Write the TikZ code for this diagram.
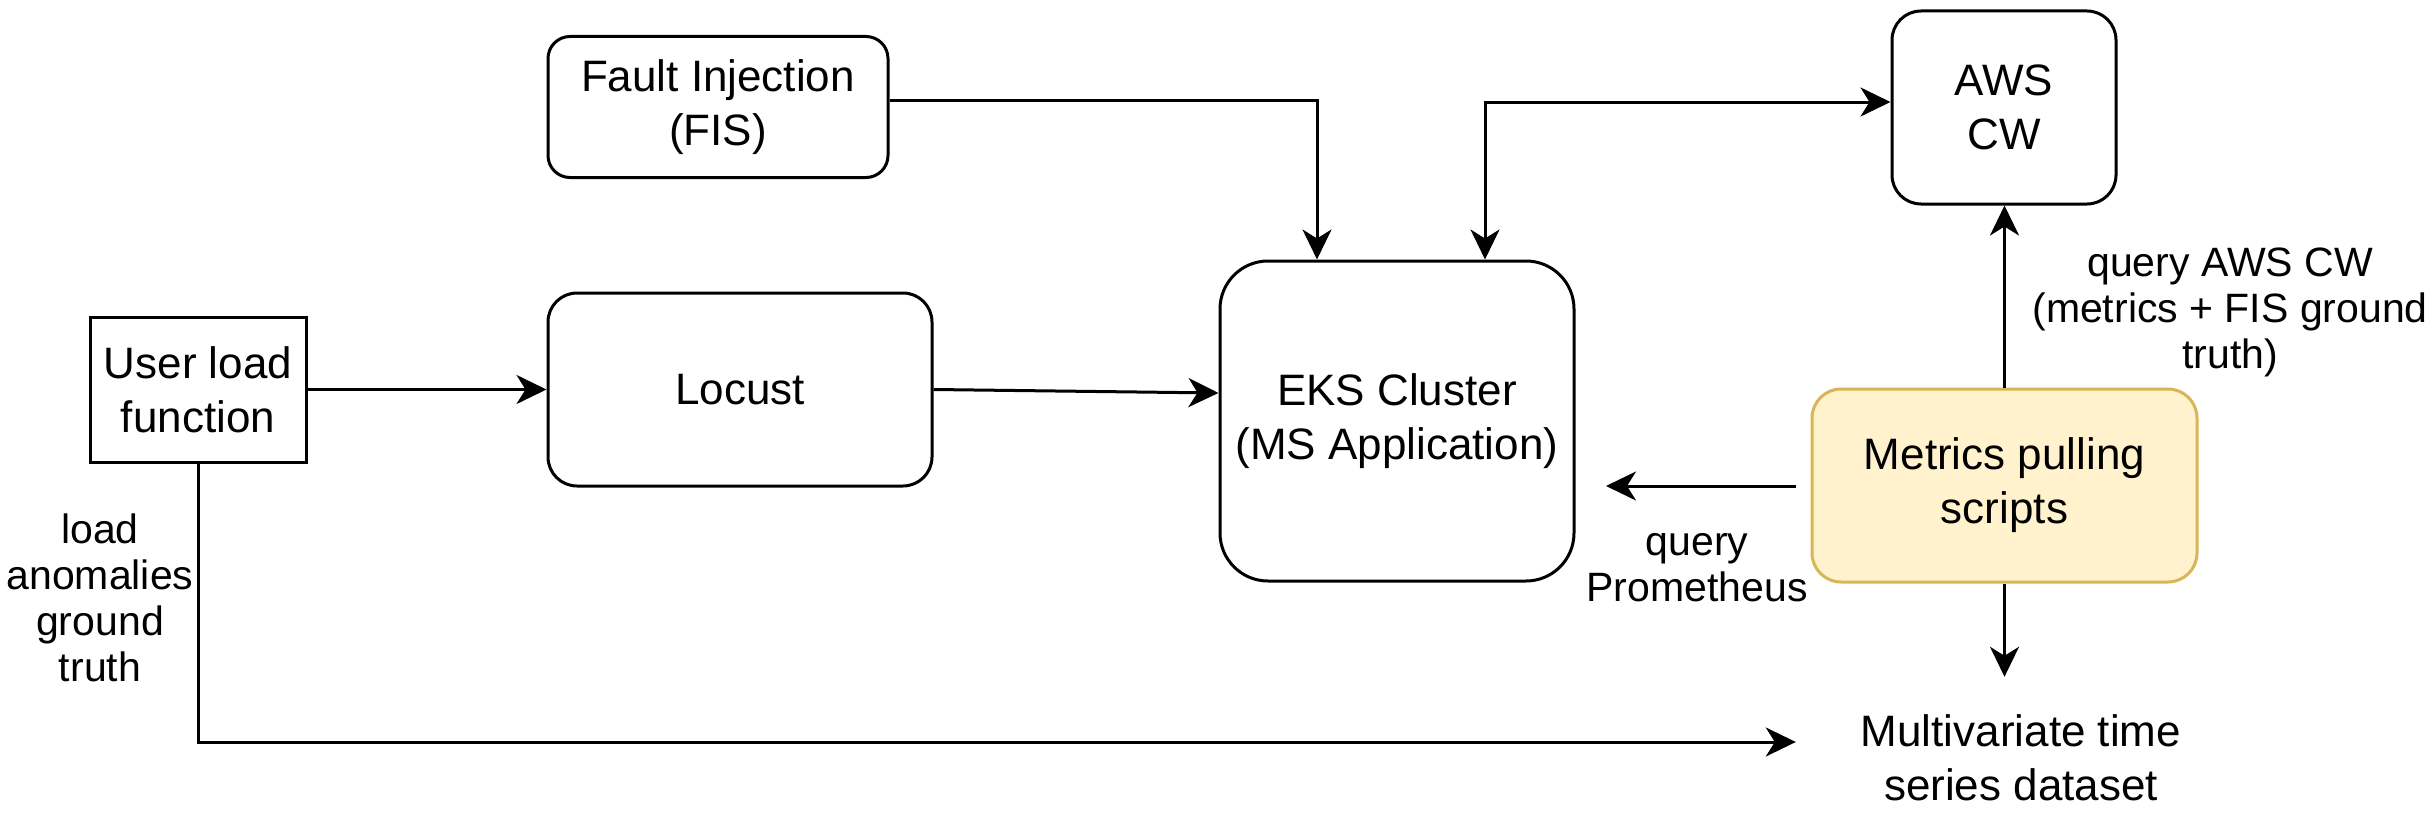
\documentclass[tikz,border=0pt]{standalone}
\usepackage{fontspec}
\setmainfont{Liberation Sans}
\usetikzlibrary{arrows.meta,calc}
\definecolor{metfill}{HTML}{FFF2CC}
\definecolor{metdraw}{HTML}{D6B656}
\begin{document}
\begin{tikzpicture}[x=1pt,y=-1pt,
  box/.style={draw, line width=3pt, align=center, inner sep=0pt,
    font=\fontsize{44}{54}\selectfont},
  rbox/.style={box, rounded corners=#1},
  lbl/.style={align=center, inner sep=0pt, font=\fontsize{41}{46}\selectfont},
  conn/.style={line width=3pt, -{Stealth[length=30pt,width=29pt,inset=9pt]}},
  conn2/.style={line width=3pt, {Stealth[length=30pt,width=29pt,inset=9pt]}-{Stealth[length=30pt,width=29pt,inset=9pt]}}]
\useasboundingbox (0,0) rectangle (2434,816);
\fill[white] (0,0) rectangle (2434,816);

\node[box, minimum width=216pt, minimum height=145pt] (user) at (198,389.5) {User load\\function};
\node[rbox=22pt, minimum width=340pt, minimum height=141pt] (fis) at (718,107) {Fault Injection\\(FIS)};
\node[rbox=29pt, minimum width=384pt, minimum height=193pt] (locust) at (740,389.5) {Locust};
\node[rbox=48pt, minimum width=354pt, minimum height=320pt] (eks) at (1397,421) {EKS Cluster\\(MS Application)};
\node[rbox=29pt, minimum width=224pt, minimum height=193pt] (aws) at (2004,107.5) {AWS\\CW};
\node[rbox=29pt, minimum width=385pt, minimum height=193pt, fill=metfill, draw=metdraw] (met) at (2004.5,485.5) {Metrics pulling\\scripts};
\node[align=center, inner sep=0pt, minimum width=450pt, minimum height=162pt,
  font=\fontsize{44}{54}\selectfont] (ds) at (2021,758) {Multivariate time\\series dataset};

\coordinate (pstart) at (1796,486);
\coordinate (pend) at (1606,486);

\draw[conn] (user.east) -- (locust.west);
\draw[conn] (locust.east) -- ($(eks.west)+(0,-28)$);
\draw[conn] ($(fis.east)+(0,-7)$) -| ($(eks.north)+(-80,0)$);
\draw[conn2] ($(eks.north)+(88,0)$) |- ($(aws.west)+(0,-5.5)$);
\draw[conn] (met.north) -- (met.north |- aws.south);
\draw[conn] (pstart) -- (pend);
\draw[conn] (met.south) -- (met.south |- ds.north);
\draw[conn] (user.south) |- ($(ds.west)+(0,-16)$);

\node[lbl] (l1) at (100,598) {load\\anomalies\\ground\\truth};
\node[lbl] (l2) at (1697,568) {query\\Prometheus};
\node[lbl] (l3) at (2230,312) {query AWS CW\\(metrics + FIS ground\\truth)};
\end{tikzpicture}
\end{document}
